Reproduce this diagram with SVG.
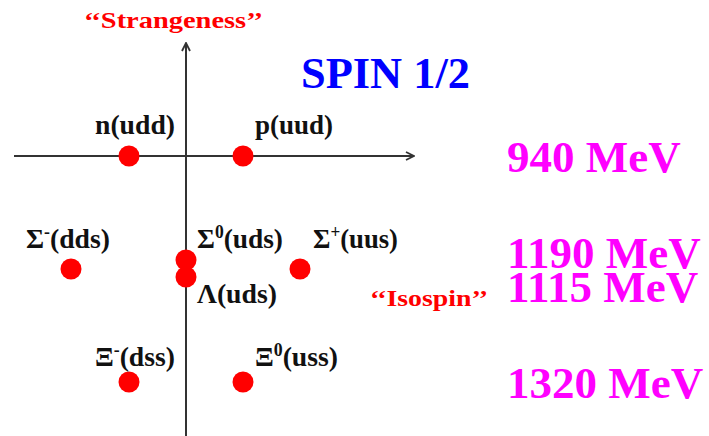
<svg xmlns="http://www.w3.org/2000/svg" width="709" height="436" viewBox="0 0 709 436">
<style>
text{font-family:"Liberation Serif","Times New Roman",serif;font-weight:bold}
.lbl{font-size:28px;fill:#111}
.sup{font-size:18px}
.red{font-size:24px;fill:#ff0000}
.mev{font-size:45px;fill:#ff00ff}
.dot{fill:#ff0000}
.ax{stroke:#333;stroke-width:2;fill:none}
</style>
<defs>
<marker id="arr" viewBox="0 0 10 10" refX="9" refY="5" markerWidth="10" markerHeight="10" markerUnits="userSpaceOnUse" orient="auto">
<path d="M1,1 L9,5 L1,9" fill="none" stroke="#333" stroke-width="1.8"/>
</marker>
</defs>
<g id="connectors">
<line class="ax" x1="186" y1="436" x2="186" y2="43" marker-end="url(#arr)"/>
<line class="ax" x1="14" y1="156" x2="414" y2="156" marker-end="url(#arr)"/>
</g>
<g id="title"><text x="301" y="88" font-size="45" fill="#0000ff" textLength="169" lengthAdjust="spacingAndGlyphs">SPIN 1/2</text></g>
<g id="strangeness"><text class="red" x="84" y="28" textLength="179" lengthAdjust="spacingAndGlyphs">‘‘Strangeness’’</text></g>
<g id="isospin"><text class="red" x="370" y="306" textLength="118" lengthAdjust="spacingAndGlyphs">‘‘Isospin’’</text></g>
<g id="n"><circle class="dot" cx="129" cy="156" r="10.5"/><text class="lbl" x="95" y="134" textLength="80" lengthAdjust="spacingAndGlyphs">n(udd)</text></g>
<g id="p"><circle class="dot" cx="243" cy="156" r="10.5"/><text class="lbl" x="255" y="134" textLength="78" lengthAdjust="spacingAndGlyphs">p(uud)</text></g>
<g id="sigma-minus"><circle class="dot" cx="71" cy="269" r="10.5"/><text class="lbl" x="26" y="248" textLength="84" lengthAdjust="spacingAndGlyphs">Σ<tspan class="sup" dy="-10">-</tspan><tspan dy="10">(dds)</tspan></text></g>
<g id="sigma-zero"><circle class="dot" cx="186" cy="260" r="10.5"/><text class="lbl" x="197" y="248" textLength="86" lengthAdjust="spacingAndGlyphs">Σ<tspan class="sup" dy="-10">0</tspan><tspan dy="10">(uds)</tspan></text></g>
<g id="lambda"><circle class="dot" cx="186" cy="277" r="10.5"/><text class="lbl" x="197" y="303" textLength="80" lengthAdjust="spacingAndGlyphs">Λ(uds)</text></g>
<g id="sigma-plus"><circle class="dot" cx="300" cy="269" r="10.5"/><text class="lbl" x="313" y="248" textLength="85" lengthAdjust="spacingAndGlyphs">Σ<tspan class="sup" dy="-10">+</tspan><tspan dy="10">(uus)</tspan></text></g>
<g id="xi-minus"><circle class="dot" cx="129" cy="382" r="10.5"/><text class="lbl" x="95" y="366" textLength="80" lengthAdjust="spacingAndGlyphs">Ξ<tspan class="sup" dy="-10">-</tspan><tspan dy="10">(dss)</tspan></text></g>
<g id="xi-zero"><circle class="dot" cx="243" cy="382" r="10.5"/><text class="lbl" x="255" y="366" textLength="83" lengthAdjust="spacingAndGlyphs">Ξ<tspan class="sup" dy="-10">0</tspan><tspan dy="10">(uss)</tspan></text></g>
<g id="masses">
<text class="mev" x="507" y="172">940 MeV</text>
<text class="mev" x="507" y="268">1190 MeV</text>
<text class="mev" x="507" y="302">1115 MeV</text>
<text class="mev" x="507" y="398">1320 MeV</text>
</g>
</svg>
